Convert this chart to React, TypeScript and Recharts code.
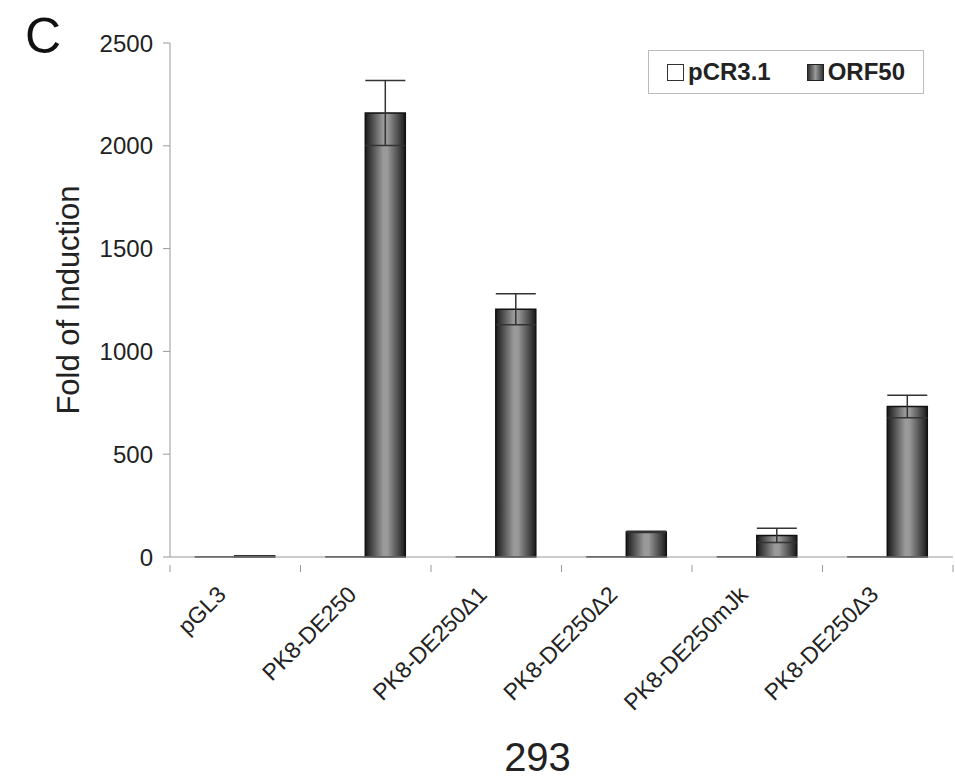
import React from 'react';
import { BarChart, Bar, XAxis, YAxis, ErrorBar, Label } from 'recharts';

const categories = ['pGL3', 'PK8-DE250', 'PK8-DE250Δ1', 'PK8-DE250Δ2', 'PK8-DE250mJk', 'PK8-DE250Δ3'];
const pcrValues = [1, 1, 1, 1, 1, 1];
const orfValues = [5, 2160, 1205, 122, 105, 732];
const orfErrors = [1, 158, 75, 3, 35, 55];
const yTicks = [0, 500, 1000, 1500, 2000, 2500];

const data = categories.map((name, i) => ({
  name,
  pcr: pcrValues[i],
  orf: orfValues[i],
  orfErr: orfErrors[i],
}));

const FONT = '"Liberation Sans", Arial, sans-serif';
const W = 955;
const H = 778;
const YAXIS_W = 100;
const XAXIS_H = 30;
const MARGIN = { top: 43, right: 2, left: 70, bottom: 221 - XAXIS_H };

function CategoryTick(props: any) {
  const { x, y, payload } = props;
  const half = (W - MARGIN.left - YAXIS_W - MARGIN.right) / categories.length / 2;
  return (
    <g transform={`translate(${x},${y})`}>
      <line x1={half} y1={0} x2={half} y2={7} stroke="#999" />
      {payload.index === 0 && <line x1={-half} y1={0} x2={-half} y2={7} stroke="#999" />}
      <text
        x={0}
        y={0}
        transform="translate(-8,31) rotate(-45)"
        textAnchor="end"
        fontSize={23}
        fill="#222"
        fontFamily={FONT}
      >
        {payload.value}
      </text>
    </g>
  );
}

function LegendBox() {
  return (
    <div
      style={{
        position: 'absolute',
        left: 648,
        top: 50,
        width: 274,
        height: 42,
        border: '1px solid #bbb',
        background: '#fff',
        display: 'flex',
        alignItems: 'center',
        justifyContent: 'center',
        gap: 36,
        fontFamily: FONT,
        fontWeight: 'bold',
        fontSize: 24,
        color: '#222',
      }}
    >
      <span style={{ display: 'flex', alignItems: 'center', gap: 4 }}>
        <span style={{ width: 15, height: 15, border: '1px solid #333', background: '#fff', display: 'inline-block' }} />
        pCR3.1
      </span>
      <span style={{ display: 'flex', alignItems: 'center', gap: 4 }}>
        <span
          style={{
            width: 15,
            height: 15,
            border: '1px solid #222',
            background: 'linear-gradient(to right, #333, #999, #333)',
            display: 'inline-block',
          }}
        />
        ORF50
      </span>
    </div>
  );
}

export default function App() {
  return (
    <div style={{ position: 'absolute', left: 0, top: 0, width: W, height: H, background: '#fff' }}>
      <div style={{ position: 'absolute', left: 25, top: 11, fontFamily: FONT, fontSize: 50, lineHeight: '50px', color: '#111' }}>C</div>
      <div
        style={{
          position: 'absolute',
          left: 0,
          width: W,
          top: 742,
          textAlign: 'center',
          paddingLeft: 120,
          boxSizing: 'border-box',
          fontFamily: FONT,
          fontSize: 40,
          lineHeight: '30px',
          color: '#222',
        }}
      >
        293
      </div>
      <BarChart width={W} height={H} data={data} margin={MARGIN} barCategoryGap="19%" barGap={0}>
        <defs>
          <linearGradient id="orfGrad" x1="0" y1="0" x2="1" y2="0">
            <stop offset="0%" stopColor="#1a1a1a" />
            <stop offset="45%" stopColor="#9a9a9a" />
            <stop offset="55%" stopColor="#9a9a9a" />
            <stop offset="100%" stopColor="#1a1a1a" />
          </linearGradient>
        </defs>
        <XAxis
          dataKey="name"
          interval={0}
          height={XAXIS_H}
          tick={<CategoryTick />}
          tickLine={false}
          axisLine={{ stroke: '#999' }}
        />
        <YAxis
          domain={[0, 2500]}
          ticks={yTicks}
          tickLine={{ stroke: '#999' }}
          tickSize={7}
          tickMargin={10}
          axisLine={{ stroke: '#999' }}
          tick={{ fontSize: 24, fill: '#222', fontFamily: FONT }}
          width={YAXIS_W}
        >
          <Label
            value="Fold of Induction"
            angle={-90}
            position="insideLeft"
            offset={-2}
            style={{ fontSize: 31, fill: '#222', fontFamily: FONT, textAnchor: 'middle' }}
          />
        </YAxis>
        <Bar dataKey="pcr" fill="#fff" stroke="#222" strokeWidth={1} isAnimationActive={false} />
        <Bar dataKey="orf" fill="url(#orfGrad)" stroke="#111" strokeWidth={1.5} isAnimationActive={false}>
          <ErrorBar dataKey="orfErr" width={20} stroke="#333" strokeWidth={1.5} />
        </Bar>
      </BarChart>
      <LegendBox />
    </div>
  );
}
